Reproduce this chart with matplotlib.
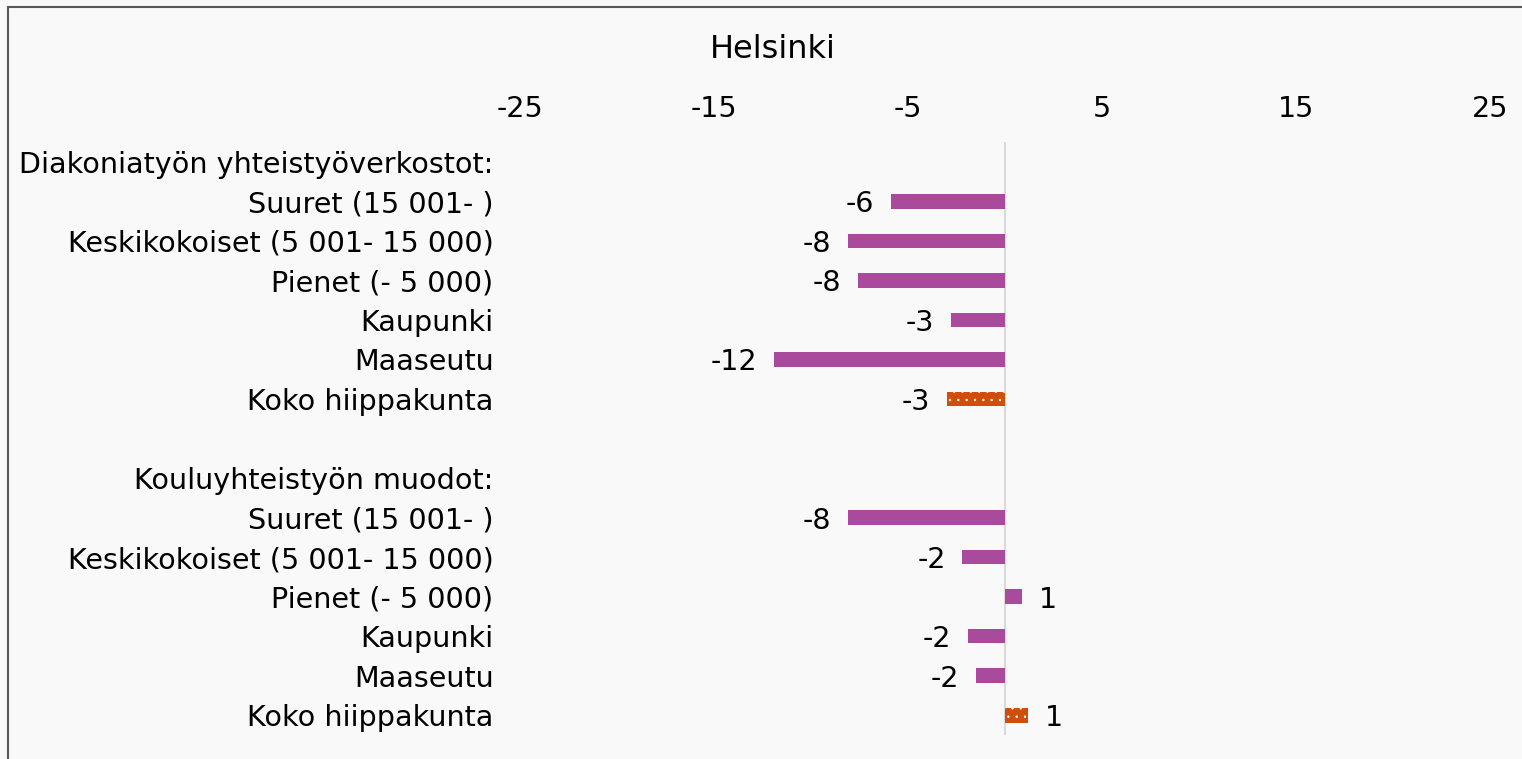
import matplotlib
matplotlib.use('Agg')
import matplotlib.pyplot as plt
from matplotlib.patches import Rectangle

# rows top to bottom; '' / None = header or blank row
categories = [
    'Diakoniatyön yhteistyöverkostot:',
    'Suuret (15 001- )',
    'Keskikokoiset (5 001- 15 000)',
    'Pienet (- 5 000)',
    'Kaupunki',
    'Maaseutu',
    'Koko hiippakunta',
    '',
    'Kouluyhteistyön muodot:',
    'Suuret (15 001- )',
    'Keskikokoiset (5 001- 15 000)',
    'Pienet (- 5 000)',
    'Kaupunki',
    'Maaseutu',
    'Koko hiippakunta',
]
values = [None, -5.9, -8.1, -7.6, -2.8, -11.9, -3.0,
          None, None, -8.1, -2.2, 0.9, -1.9, -1.5, 1.2]
total_rows = [6, 14]
xticks = [-25, -15, -5, 5, 15, 25]
title = 'Helsinki'

purple = '#aa4a9c'
orange = '#d04e0a'
bg = '#f9f9f9'
fs = 20.6

plt.rcParams['hatch.linewidth'] = 0.5

fig = plt.figure(figsize=(15.22, 7.59), dpi=100)
fig.patch.set_facecolor(bg)
fig.patches.append(Rectangle((8 / 1522, -0.1), 1.2, 1 - 7 / 759 + 0.1,
                             transform=fig.transFigure, fill=False,
                             edgecolor='#595959', linewidth=1.5))

ax = fig.add_axes([520 / 1522, 1 - 735 / 759, 970 / 1522, (735 - 142) / 759])
ax.set_facecolor(bg)
ax.patch.set_alpha(0)

n = len(categories)
ax.set_ylim(n - 0.5, -0.5)
ax.set_xlim(-25, 25)

for i, v in enumerate(values):
    if v is None:
        continue
    if i in total_rows:
        ax.barh(i, v, height=0.37, color=orange, edgecolor='white',
                linewidth=0, hatch='..', zorder=2)
    else:
        ax.barh(i, v, height=0.37, color=purple, linewidth=0, zorder=2)
    lab = str(int(round(v)))
    if v < 0:
        ax.annotate(lab, (v, i), xytext=(-12, 0), textcoords='offset points',
                    ha='right', va='center_baseline', fontsize=fs, color='black')
    else:
        ax.annotate(lab, (v, i), xytext=(12, 0), textcoords='offset points',
                    ha='left', va='center_baseline', fontsize=fs, color='black')

ax.axvline(0, color='#d9d9d9', linewidth=1.5, zorder=1)

ax.set_yticks(range(n))
ax.set_yticklabels(categories, fontsize=fs)
ax.tick_params(axis='y', length=0, pad=19)
ax.set_xticks(xticks)
ax.set_xticklabels([str(t) for t in xticks], fontsize=fs)
ax.xaxis.tick_top()
ax.tick_params(axis='x', length=0, pad=13.5)
for s in ax.spines.values():
    s.set_visible(False)

fig.text(773 / 1522, 1 - 50 / 759, title, ha='center', va='center', fontsize=23)

plt.savefig('out.png', dpi=100, facecolor=bg)
